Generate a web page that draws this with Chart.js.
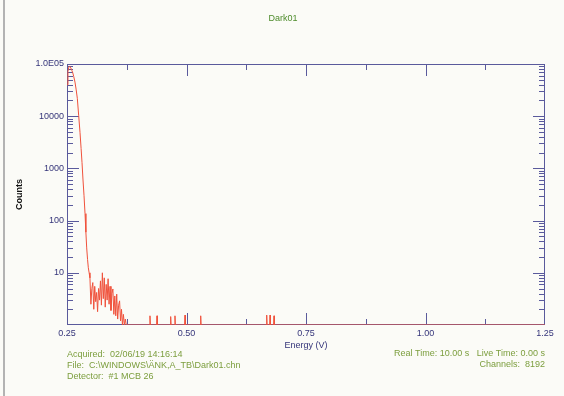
<!DOCTYPE html>
<html>
<head>
<meta charset="utf-8">
<script src="https://cdn.jsdelivr.net/npm/chart.js@4"></script>
<style>
  html, body { margin: 0; padding: 0; background: #fbfbf7; }
  canvas { display: block; }
</style>
</head>
<body>
<canvas id="c" width="564" height="396"></canvas>
<script>
// Spectrum: energy (V) and counts, continuous region (peak + noise tail)
const energyV = [
  0.250, 0.252, 0.254, 0.256, 0.258, 0.260, 0.262, 0.264, 0.2667, 0.269,
  0.2716, 0.2744, 0.2772, 0.2795, 0.2814, 0.2835, 0.2856, 0.2877, 0.2895, 0.2912,
  0.2930, 0.2946, 0.2963, 0.298,
  0.300, 0.302, 0.304, 0.306, 0.308, 0.310, 0.312, 0.314, 0.316, 0.318,
  0.320, 0.322, 0.324, 0.326, 0.328, 0.330, 0.332, 0.334, 0.336, 0.338,
  0.340, 0.342, 0.344, 0.346, 0.348, 0.350, 0.352, 0.354, 0.356, 0.358,
  0.360, 0.362, 0.364, 0.366, 0.368, 0.370, 0.372, 0.374
];
const counts = [
  40000, 72000, 88000, 90000, 84000, 76000, 68000, 58000, 45000, 33000,
  22000, 10400, 4900, 2400, 1300, 600, 300, 136, 60, 30,
  18, 12.5, 10, 8,
  2.5, 5, 6.5, 2, 5.5, 2.8, 4.2, 1.8, 5, 3,
  7, 2.4, 10, 3.2, 8, 2.2, 6, 3, 7.7, 2.5,
  5.5, 1.9, 4, 4.9, 1.6, 3.6, 1.5, 3.9, 1.3, 2.4,
  2.9, 1.2, 2, 1, 1.6, 1, 1.3, 1
];

// Isolated single-count events further up the spectrum
const spikeEnergyV = [0.4236, 0.4383, 0.4669, 0.4759, 0.4969, 0.5297, 0.6678, 0.6748, 0.6831];
const spikeCounts  = [1.5, 1.5, 1.45, 1.5, 1.55, 1.5, 1.55, 1.55, 1.5];
const floorCount = 1;
const lastEnergyV = 1.25;

// Axis ticks
const xTickValues = [0.25, 0.50, 0.75, 1.00, 1.25];
const xTickLabels = ['0.25', '0.50', '0.75', '1.00', '1.25'];
const yTickValues = [10, 100, 1000, 10000, 100000];
const yTickLabels = ['10', '100', '1000', '10000', '1.0E05'];

// Header / footer text
const titleText = 'Dark01';
const footerLeft = [
  'Acquired:  02/06/19 14:16:14',
  'File:  C:\\WINDOWS\\ÄNK,A_TB\\Dark01.chn',
  'Detector:  #1 MCB 26'
];
const footerRight = [
  'Real Time: 10.00 s   Live Time: 0.00 s',
  'Channels:  8192'
];

const points = energyV.map((e, i) => ({ x: e, y: counts[i] }));
spikeEnergyV.forEach((e, i) => {
  points.push({ x: e - 0.0008, y: floorCount }, { x: e, y: spikeCounts[i] }, { x: e + 0.0008, y: floorCount });
});
points.push({ x: lastEnergyV, y: floorCount });

const AXIS = '#5a5a9c';
const LABEL = '#35357a';
const FONT = '"Liberation Sans", Arial, sans-serif';

const framePlugin = {
  id: 'frame',
  beforeDraw(chart) {
    const ctx = chart.ctx;
    ctx.save();
    ctx.fillStyle = '#fbfbf7';
    ctx.fillRect(0, 0, chart.width, chart.height);
    ctx.fillStyle = '#b3b3b3';
    ctx.fillRect(3, 0, 2, chart.height);
    ctx.restore();
  },
  beforeDatasetsDraw(chart) {
    const { ctx, chartArea: a, scales: { x, y } } = chart;
    ctx.save();
    ctx.strokeStyle = AXIS;
    ctx.lineWidth = 1;
    ctx.strokeRect(a.left + 0.5, a.top + 0.5, a.right - a.left - 1, a.bottom - a.top - 1);
    ctx.beginPath();
    // log minor/major ticks on left and right, pointing inward
    for (let d = 1; d < 100000; d *= 10) {
      for (let m = 1; m <= 9; m++) {
        const v = d * m;
        if (v <= y.min || v >= y.max) continue;
        const py = Math.round(y.getPixelForValue(v)) + 0.5;
        const len = m === 1 ? 12 : 6;
        ctx.moveTo(a.left, py); ctx.lineTo(a.left + len, py);
        ctx.moveTo(a.right, py); ctx.lineTo(a.right - len, py);
      }
    }
    // energy ticks on bottom and top, every 0.125 V
    for (let k = 1; k < 8; k++) {
      const v = 0.25 + k * 0.125;
      const px = Math.round(x.getPixelForValue(v)) + 0.5;
      const len = k % 2 === 0 ? 12 : 6;
      ctx.moveTo(px, a.bottom); ctx.lineTo(px, a.bottom - len);
      ctx.moveTo(px, a.top); ctx.lineTo(px, a.top + len);
    }
    ctx.stroke();
    ctx.restore();
  },
  afterDraw(chart) {
    const ctx = chart.ctx;
    ctx.save();
    ctx.textBaseline = 'middle';
    ctx.font = '9px ' + FONT;
    ctx.fillStyle = '#4e8c2c';
    ctx.textAlign = 'center';
    ctx.fillText(titleText, 283, 19);
    ctx.fillStyle = '#7c9e3e';
    ctx.textAlign = 'left';
    footerLeft.forEach((t, i) => ctx.fillText(t, 67, 355 + i * 11));
    ctx.textAlign = 'right';
    footerRight.forEach((t, i) => ctx.fillText(t, 545, 354 + i * 11));
    ctx.restore();
  }
};

new Chart(document.getElementById('c'), {
  type: 'line',
  data: {
    datasets: [{
      data: points,
      borderColor: 'rgb(240, 82, 60)',
      borderWidth: 1,
      pointRadius: 0,
      tension: 0,
      fill: false
    }]
  },
  options: {
    responsive: false,
    animation: false,
    devicePixelRatio: 1,
    layout: { padding: { left: 0, right: 19, top: 64, bottom: 41 } },
    plugins: { legend: { display: false }, tooltip: { enabled: false }, title: { display: false } },
    scales: {
      x: {
        type: 'linear',
        min: 0.25,
        max: 1.25,
        grid: { display: false, drawTicks: false },
        border: { display: false },
        afterBuildTicks: s => { s.ticks = xTickValues.map(v => ({ value: v })); },
        ticks: {
          padding: 3, autoSkip: false, maxRotation: 0, color: LABEL,
          font: { family: FONT, size: 9 },
          callback: (v, i) => xTickLabels[i]
        },
        title: { display: true, text: 'Energy (V)', color: LABEL, font: { family: FONT, size: 9 }, padding: { top: 0, bottom: 4 } },
        afterFit: s => { s.height = 30; }
      },
      y: {
        type: 'logarithmic',
        min: 1,
        max: 100000,
        grid: { display: false, drawTicks: false },
        border: { display: false },
        afterBuildTicks: s => { s.ticks = yTickValues.map(v => ({ value: v })); },
        ticks: {
          padding: 3, autoSkip: false, color: LABEL,
          font: { family: FONT, size: 9 },
          callback: (v, i) => yTickLabels[i]
        },
        title: { display: true, text: 'Counts', color: '#111111', font: { family: FONT, size: 9, weight: 'bold' }, padding: { top: 14, bottom: 0 } },
        afterFit: s => { s.width = 67; }
      }
    }
  },
  plugins: [framePlugin]
});
</script>
</body>
</html>
